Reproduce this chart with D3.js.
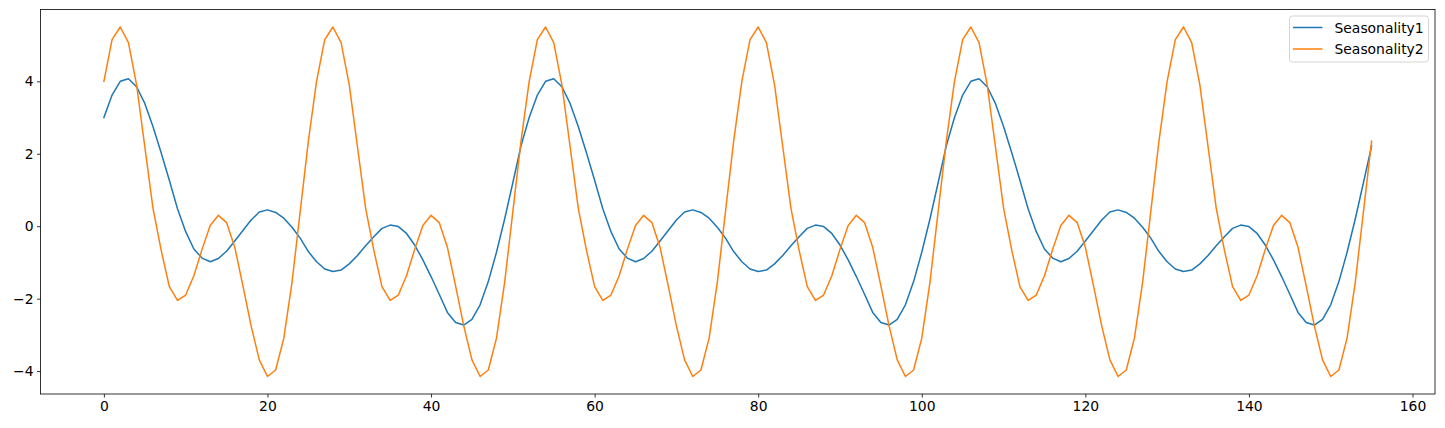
<!DOCTYPE html>
<html lang="en">
<head>
    <meta charset="UTF-8">
    <title>Seasonality</title>
    <script src="https://cdn.jsdelivr.net/npm/d3@7/dist/d3.min.js"></script>
    <style>
        body { margin: 0; background: #fff; }
        text { font-family: "DejaVu Sans", sans-serif; fill: #000; }
    </style>
</head>
<body>
<svg id="main" width="1445" height="428"></svg>
<script>
    // values, one per week (0..155)
    const seasonality1 = [
        3.0, 3.62, 4.0, 4.07, 3.85, 3.39, 2.75, 2.03, 1.27, 0.48, -0.15, -0.63, -0.88, -0.98, -0.89, -0.69,
        -0.41, -0.12, 0.17, 0.39, 0.45, 0.38, 0.22, -0.03, -0.33, -0.7, -0.98, -1.18, -1.25, -1.21, -1.04, -0.81,
        -0.54, -0.29, -0.06, 0.03, -0.01, -0.2, -0.52, -0.93, -1.39, -1.88, -2.38, -2.66, -2.73, -2.57, -2.17, -1.53,
        -0.72, 0.2, 1.2, 2.22,
        3.0, 3.62, 4.0, 4.07, 3.85, 3.39, 2.75, 2.03, 1.27, 0.48, -0.15, -0.63, -0.88, -0.98, -0.89, -0.69,
        -0.41, -0.12, 0.17, 0.39, 0.45, 0.38, 0.22, -0.03, -0.33, -0.7, -0.98, -1.18, -1.25, -1.21, -1.04, -0.81,
        -0.54, -0.29, -0.06, 0.03, -0.01, -0.2, -0.52, -0.93, -1.39, -1.88, -2.38, -2.66, -2.73, -2.57, -2.17, -1.53,
        -0.72, 0.2, 1.2, 2.22,
        3.0, 3.62, 4.0, 4.07, 3.85, 3.39, 2.75, 2.03, 1.27, 0.48, -0.15, -0.63, -0.88, -0.98, -0.89, -0.69,
        -0.41, -0.12, 0.17, 0.39, 0.45, 0.38, 0.22, -0.03, -0.33, -0.7, -0.98, -1.18, -1.25, -1.21, -1.04, -0.81,
        -0.54, -0.29, -0.06, 0.03, -0.01, -0.2, -0.52, -0.93, -1.39, -1.88, -2.38, -2.66, -2.73, -2.57, -2.17, -1.53,
        -0.72, 0.2, 1.2, 2.22
    ];
    const seasonality2 = [
        4.0, 5.15, 5.5, 5.07, 3.9, 2.2, 0.5, -0.66, -1.67, -2.05, -1.9, -1.37, -0.64, 0.02, 0.3, 0.1,
        -0.58, -1.65, -2.75, -3.69, -4.15, -3.97, -3.09, -1.55, 0.4, 2.35,
        4.0, 5.15, 5.5, 5.07, 3.9, 2.2, 0.5, -0.66, -1.67, -2.05, -1.9, -1.37, -0.64, 0.02, 0.3, 0.1,
        -0.58, -1.65, -2.75, -3.69, -4.15, -3.97, -3.09, -1.55, 0.4, 2.35,
        4.0, 5.15, 5.5, 5.07, 3.9, 2.2, 0.5, -0.66, -1.67, -2.05, -1.9, -1.37, -0.64, 0.02, 0.3, 0.1,
        -0.58, -1.65, -2.75, -3.69, -4.15, -3.97, -3.09, -1.55, 0.4, 2.35,
        4.0, 5.15, 5.5, 5.07, 3.9, 2.2, 0.5, -0.66, -1.67, -2.05, -1.9, -1.37, -0.64, 0.02, 0.3, 0.1,
        -0.58, -1.65, -2.75, -3.69, -4.15, -3.97, -3.09, -1.55, 0.4, 2.35,
        4.0, 5.15, 5.5, 5.07, 3.9, 2.2, 0.5, -0.66, -1.67, -2.05, -1.9, -1.37, -0.64, 0.02, 0.3, 0.1,
        -0.58, -1.65, -2.75, -3.69, -4.15, -3.97, -3.09, -1.55, 0.4, 2.35,
        4.0, 5.15, 5.5, 5.07, 3.9, 2.2, 0.5, -0.66, -1.67, -2.05, -1.9, -1.37, -0.64, 0.02, 0.3, 0.1,
        -0.58, -1.65, -2.75, -3.69, -4.15, -3.97, -3.09, -1.55, 0.4, 2.35
    ];
    const seriesNames = ['Seasonality1', 'Seasonality2'];
    const xTicks = [0, 20, 40, 60, 80, 100, 120, 140, 160];
    const yTicks = [-4, -2, 0, 2, 4];

    const colors = ['#1f77b4', '#ff7f0e'];
    const svg = d3.select('svg#main');
    const plot = {left: 40.5, right: 1435, top: 9.5, bottom: 394};

    const xs = d3.range(seasonality1.length);
    const allY = seasonality1.concat(seasonality2);
    const xPad = (d3.max(xs) - d3.min(xs)) * 0.05;
    const yPad = (d3.max(allY) - d3.min(allY)) * 0.05;

    const x = d3.scaleLinear()
        .domain([d3.min(xs) - xPad, d3.max(xs) + xPad])
        .range([plot.left, plot.right]);
    const y = d3.scaleLinear()
        .domain([d3.min(allY) - yPad, d3.max(allY) + yPad])
        .range([plot.bottom, plot.top]);

    const line = d3.line()
        .x((d, i) => x(i))
        .y(d => y(d));

    svg.selectAll('path.series')
        .data([seasonality1, seasonality2])
        .enter()
        .append('path')
        .attr('class', 'series')
        .attr('fill', 'none')
        .attr('stroke', (d, i) => colors[i])
        .attr('stroke-width', 1.5)
        .attr('stroke-linejoin', 'round')
        .attr('stroke-linecap', 'square')
        .attr('d', line);

    const fmt = v => String(v).replace('-', '\u2212');

    const xAxis = svg.append('g')
        .attr('transform', 'translate(0,' + plot.bottom + ')')
        .call(d3.axisBottom(x).tickValues(xTicks).tickSize(3.5).tickPadding(3.5).tickFormat(fmt));
    const yAxis = svg.append('g')
        .attr('transform', 'translate(' + plot.left + ',0)')
        .call(d3.axisLeft(y).tickValues(yTicks).tickSize(3.5).tickPadding(3.5).tickFormat(fmt));

    [xAxis, yAxis].forEach(g => {
        g.select('.domain').remove();
        g.selectAll('line').attr('stroke', '#000').attr('stroke-width', 0.8);
        g.selectAll('text').attr('font-size', '13.9px').attr('font-family', '"DejaVu Sans", sans-serif').attr('fill', '#000');
    });

    // frame
    svg.append('rect')
        .attr('x', plot.left).attr('y', plot.top)
        .attr('width', plot.right - plot.left).attr('height', plot.bottom - plot.top)
        .attr('fill', 'none')
        .attr('stroke', '#000')
        .attr('stroke-width', 0.8);

    // legend
    const legend = svg.append('g').attr('transform', 'translate(1289.5,16)');
    legend.append('rect')
        .attr('width', 139).attr('height', 46)
        .attr('rx', 3).attr('ry', 3)
        .attr('fill', '#fff').attr('fill-opacity', 0.8)
        .attr('stroke', '#d5d5d5').attr('stroke-width', 1);

    const items = legend.selectAll('.item').data(seriesNames)
        .enter().append('g')
        .attr('class', 'item')
        .attr('transform', (d, i) => 'translate(0,' + (11.5 + i * 21.5) + ')');
    items.append('line')
        .attr('x1', 3.5).attr('x2', 33)
        .attr('stroke', (d, i) => colors[i])
        .attr('stroke-width', 1.5);
    items.append('text')
        .attr('x', 45)
        .attr('dy', '0.36em')
        .attr('font-size', '13.9px')
        .text(d => d);
</script>
</body>
</html>
